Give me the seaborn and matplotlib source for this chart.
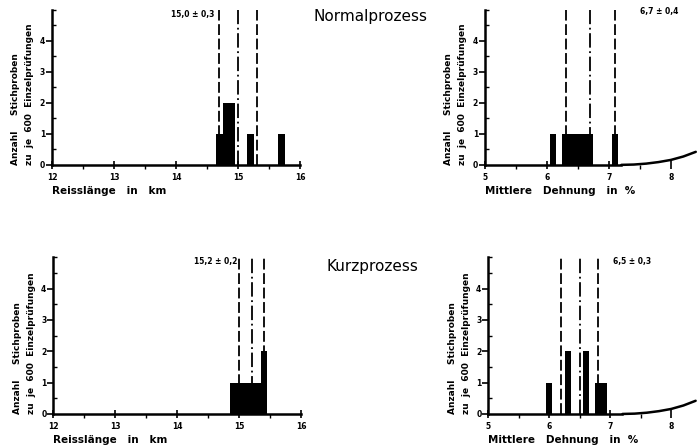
import numpy as np
import pandas as pd
import seaborn as sns
import matplotlib.pyplot as plt
from matplotlib.ticker import MultipleLocator

# Stichproben-Mittelwerte (je Balken ein Wert, Klassenbreite 0,1)
normal_reiss = [14.7, 14.8, 14.8, 14.9, 14.9, 15.2, 15.7]
normal_dehn = [6.1, 6.3, 6.4, 6.5, 6.6, 6.7, 7.1]
kurz_reiss = [14.9, 15.0, 15.1, 15.2, 15.3, 15.4, 15.4]
kurz_dehn = [6.0, 6.3, 6.3, 6.6, 6.6, 6.8, 6.9]

# Mittelwert und Streuung wie angeschrieben
normal_reiss_ms = (15.0, 0.3)
normal_dehn_ms = (6.7, 0.4)
kurz_reiss_ms = (15.2, 0.2)
kurz_dehn_ms = (6.5, 0.3)

normal_dehn_lbl = '6,7 ± 0,4'
normal_reiss_lbl = '15,0 ± 0,3'
kurz_reiss_lbl = '15,2 ± 0,2'
kurz_dehn_lbl = '6,5 ± 0,3'

# Kurve rechts (Ausläufer)
curve_x = [7.2, 7.4, 7.6, 7.8, 8.0, 8.2, 8.4]
curve_y = [0.0, 0.01, 0.04, 0.09, 0.16, 0.27, 0.42]

sns.set_style('white')
plt.rcParams['font.family'] = ['DejaVu Sans']
plt.rcParams['font.weight'] = 'bold'
plt.rcParams['text.color'] = 'black'
plt.rcParams['axes.labelcolor'] = 'black'
plt.rcParams['xtick.color'] = 'black'
plt.rcParams['ytick.color'] = 'black'

fig = plt.figure(figsize=(6.98, 4.48), dpi=100)

def panel(rect, values, ms, lbl, xlim, lbl_xy, xlabel, right=False):
    ax = fig.add_axes(rect)
    df = pd.DataFrame({'v': values})
    m, s = ms
    ax.axvline(m, color='black', lw=1.3, ls=(0, (8, 2, 1, 2)), zorder=1)
    ax.axvline(m - s, color='black', lw=1.3, ls=(0, (6, 2)), zorder=1)
    ax.axvline(m + s, color='black', lw=1.3, ls=(0, (6, 2)), zorder=1)
    sns.histplot(data=df, x='v', bins=np.arange(xlim[0] - 0.05, 16.1, 0.1),
                 color='black', alpha=1, linewidth=0, ax=ax, zorder=2)
    ax.set_xlim(*xlim)
    ax.set_ylim(0, 5)
    ax.set_yticks([0, 1, 2, 3, 4])
    ax.yaxis.set_minor_locator(MultipleLocator(0.5))
    ax.xaxis.set_major_locator(MultipleLocator(1))
    ax.xaxis.set_minor_locator(MultipleLocator(0.5))
    ax.tick_params(axis='y', which='major', direction='out', length=4, width=1.2, labelsize=5.5, pad=1)
    ax.tick_params(axis='y', which='minor', direction='in', length=3, width=1.0)
    ax.tick_params(axis='x', which='major', direction='inout', length=6, width=1.2, labelsize=5.5, pad=3)
    ax.tick_params(axis='x', which='minor', direction='out', length=3, width=1.0)
    ax.xaxis.set_ticks_position('bottom')
    ax.yaxis.set_ticks_position('left')
    for sp in ['top', 'right']:
        ax.spines[sp].set_visible(False)
    for sp in ['left', 'bottom']:
        ax.spines[sp].set_linewidth(1.8)
        ax.spines[sp].set_color('black')
    if right:
        ax.spines['bottom'].set_bounds(xlim[0], 7.2)
        sns.lineplot(x=curve_x, y=curve_y, color='black', lw=1.8, ax=ax, clip_on=False)
    ax.set_xlabel(xlabel, fontsize=7.5, fontweight='bold', loc='left', labelpad=3)
    ax.set_ylabel('Anzahl     Stichproben\nzu  je  600  Einzelprüfungen', fontsize=6.5,
                  fontweight='bold', loc='bottom', labelpad=4, linespacing=1.7)
    ax.text(lbl_xy[0], lbl_xy[1], lbl, fontsize=5.5, fontweight='bold',
            transform=ax.transData, ha='left', va='center')
    return ax

panel([0.0745, 0.632, 0.3553, 0.346], normal_reiss, normal_reiss_ms, normal_reiss_lbl,
      (12, 16), (13.92, 4.85), 'Reisslänge   in   km')
panel([0.6948, 0.632, 0.302, 0.346], normal_dehn, normal_dehn_ms, normal_dehn_lbl,
      (5, 8.4), (7.5, 4.95), 'Mittlere   Dehnung   in  %', right=True)
panel([0.0764, 0.076, 0.355, 0.35], kurz_reiss, kurz_reiss_ms, kurz_reiss_lbl,
      (12, 16), (14.27, 4.85), 'Reisslänge   in   km')
panel([0.6996, 0.076, 0.297, 0.35], kurz_dehn, kurz_dehn_ms, kurz_dehn_lbl,
      (5, 8.4), (7.05, 4.85), 'Mittlere   Dehnung   in  %', right=True)

fig.text(370 / 698, 1 - 17 / 448, 'Normalprozess', fontsize=11, fontweight='normal',
         ha='center', va='center')
fig.text(372 / 698, 1 - 266 / 448, 'Kurzprozess', fontsize=11, fontweight='normal',
         ha='center', va='center')

fig.savefig('out.png', dpi=100)
